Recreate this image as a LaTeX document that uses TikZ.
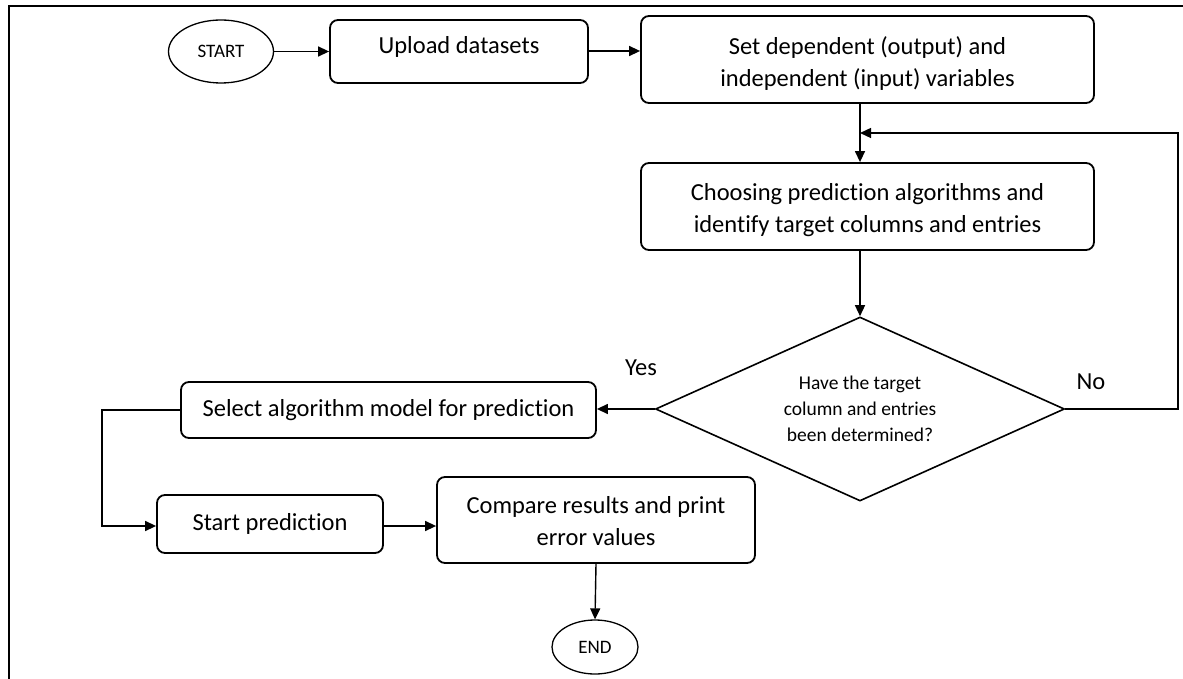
\documentclass[tikz,border=0pt]{standalone}
\usepackage{fontspec}
\setmainfont{Carlito}[Ligatures={NoCommon,NoContextual}]
\usetikzlibrary{shapes.geometric,arrows.meta}

\tikzset{
  procbox/.style={draw=black, line width=1.8pt, rounded corners=8pt, inner sep=0pt},
  boxtext/.style={inner sep=0pt, align=center, font=\fontsize{24.5}{32}\selectfont},
  termnode/.style={draw=black, line width=1.3pt, ellipse, inner sep=0pt,
    font=\fontsize{19}{22}\selectfont},
  decision/.style={draw=black, line width=1.6pt, diamond, inner sep=0pt, aspect=2.22,
    align=center, font=\fontsize{19.5}{26}\selectfont},
  flow/.style={draw=black, line width=1.4pt, -{Triangle[length=11pt,width=10pt]}},
  answer/.style={font=\fontsize{24.5}{28}\selectfont, inner sep=0pt},
}

\begin{document}
\begin{tikzpicture}[x=1pt, y=-1pt]
  \useasboundingbox (0,0) rectangle (1183,679);

  % outer frame (top and left edges)
  \draw[line width=2.6pt] (9,679) -- (9,6) -- (1183,6);

  % terminals
  \node[termnode, minimum width=105pt, minimum height=63pt] (start) at (221,51.5) {START};
  \node[termnode, minimum width=86pt, minimum height=54pt] (stop) at (595,647) {END};

  % process steps (frames, then their captions)
  \node[procbox, minimum width=258pt, minimum height=63pt] (upload) at (459,51.5) {};
  \node[procbox, minimum width=453pt, minimum height=87pt] (setvar) at (867.5,59.5) {};
  \node[procbox, minimum width=453pt, minimum height=87pt] (choose) at (867.5,206.5) {};
  \node[procbox, minimum width=415pt, minimum height=56pt] (select) at (388.5,410) {};
  \node[procbox, minimum width=226pt, minimum height=58pt] (startpred) at (270,524) {};
  \node[procbox, minimum width=318pt, minimum height=86pt] (compare) at (596,520) {};

  \node[boxtext] (uploadtext) at ([yshift=5pt]upload.center) {Upload datasets};
  \node[boxtext] (setvartext) at ([yshift=-4.5pt]setvar.center)
    {Set dependent (output) and\\independent (input) variables};
  \node[boxtext] (choosetext) at ([yshift=-4pt]choose.center)
    {Choosing prediction algorithms and\\identify target columns and entries};
  \node[boxtext] (selecttext) at (select.center) {Select algorithm model for prediction};
  \node[boxtext] (startpredtext) at (startpred.center) {Start prediction};
  \node[boxtext] (comparetext) at ([yshift=-1.5pt]compare.center)
    {Compare results and print\\error values};

  % decision
  \node[decision, minimum width=409pt, minimum height=184pt] (decide) at (860,409)
    {Have the target\\column and entries\\been determined?};

  % branch labels
  \node[answer] (yes) at (641,368) {Yes};
  \node[answer] (no) at (1091,382) {No};

  % helper points for the loop-back and the left detour
  \coordinate (loopin) at (860,133);
  \coordinate (loopright) at (1178,133);
  \coordinate (leftbend) at (102,410);

  % connectors
  \draw[flow] (start.east) -- (upload.west);
  \draw[flow] ([yshift=0.5pt]upload.east) -- ([yshift=0.5pt]upload.east -| setvar.west);
  \draw[flow] (setvar.south -| decide.north) -- (choose.north -| decide.north);
  \draw[flow] (choose.south -| decide.north) -- (decide.north);
  \draw[flow] (decide.west) -- (decide.west -| select.east);
  \draw[flow] (decide.east) -| (loopright) -- (loopin);
  \draw[flow] (select.west) -- (leftbend) |- ([yshift=-2pt]startpred.west);
  \draw[flow] ([yshift=-2pt]startpred.east) -- ([yshift=-2pt]startpred.east -| compare.west);
  \draw[flow] (compare.south) -- (stop.north);
\end{tikzpicture}
\end{document}
